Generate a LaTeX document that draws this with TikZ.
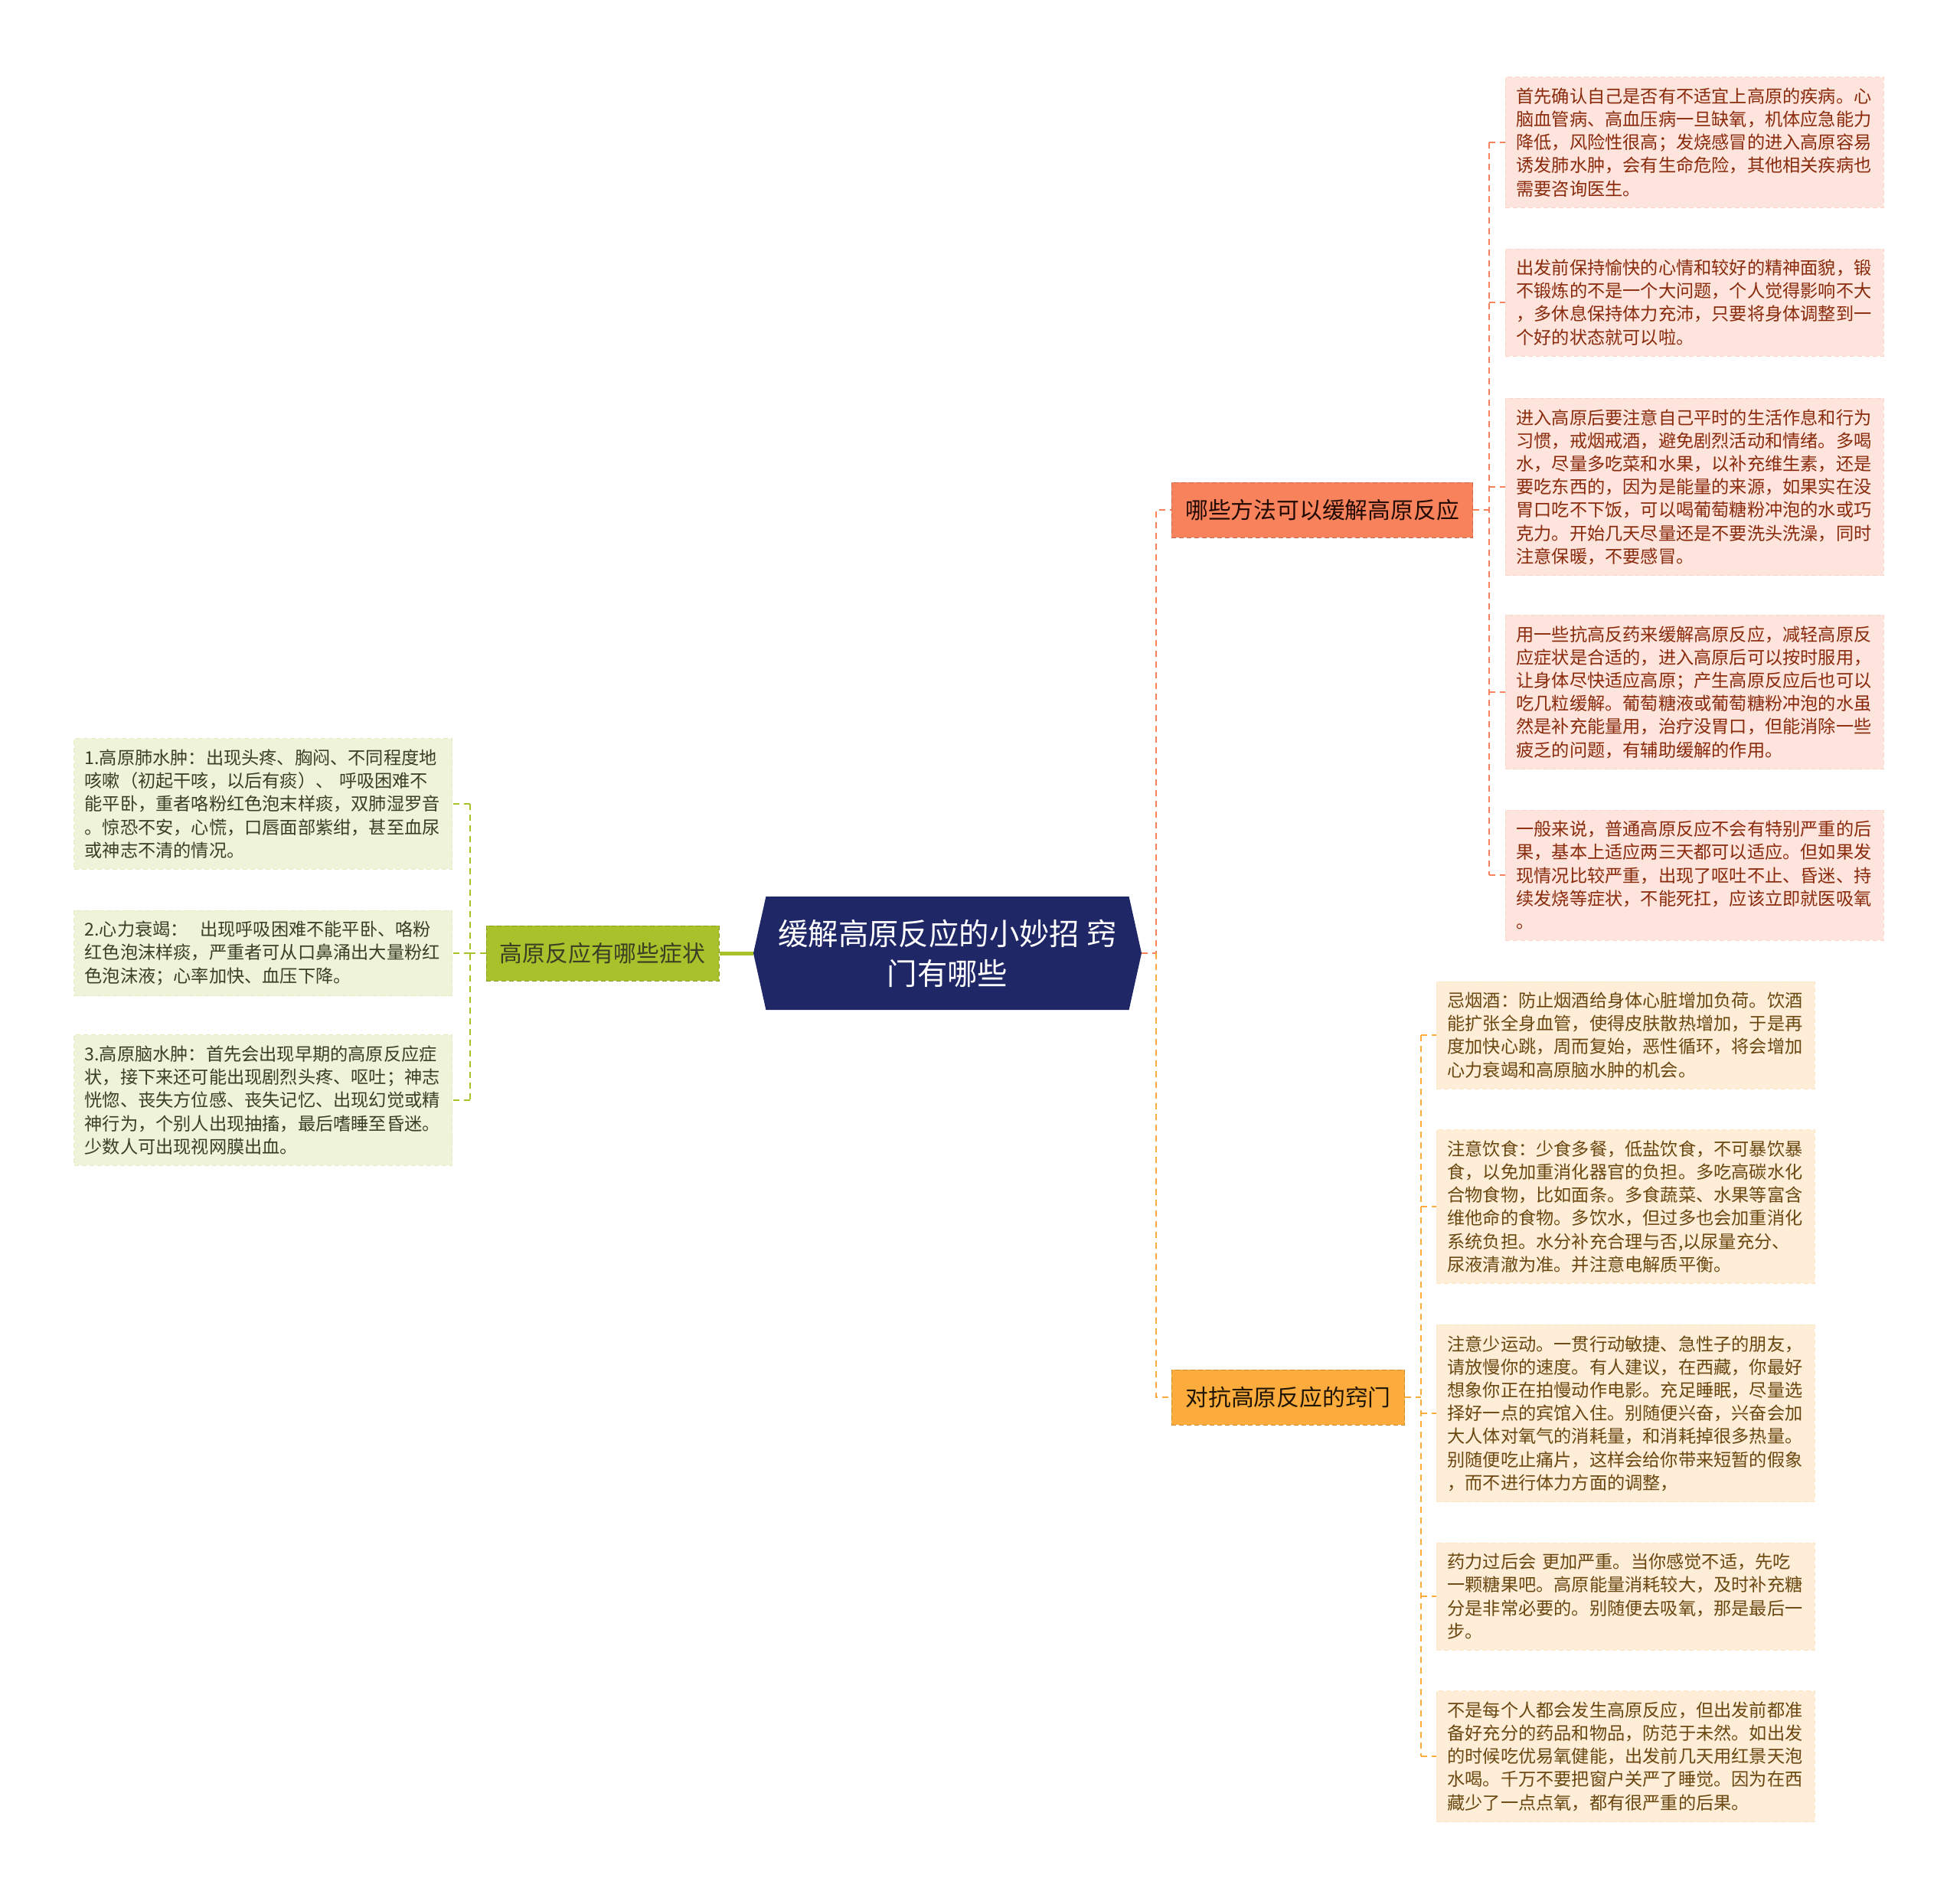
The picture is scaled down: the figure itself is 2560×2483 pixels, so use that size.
\documentclass[tikz,border=0pt]{standalone}
\usepackage{fontspec}
\setmainfont{Noto Sans CJK SC}
\usepackage{xcolor}
\usetikzlibrary{shapes.symbols}

\definecolor{rootblue}{HTML}{1F2766}
\definecolor{symgreen}{HTML}{A9C22C}
\definecolor{symleaf}{HTML}{EFF3DA}
\definecolor{symtext}{HTML}{3A3F24}
\definecolor{wayred}{HTML}{F8825B}
\definecolor{wayleaf}{HTML}{FDE4DC}
\definecolor{waytext}{HTML}{8A2A0C}
\definecolor{tipyellow}{HTML}{FBAC3C}
\definecolor{tipleaf}{HTML}{FEEED8}
\definecolor{tiptext}{HTML}{6A4710}

\begin{document}
\begin{tikzpicture}[x = 0.5pt, y = -0.5pt,
      leaf/.style = {align = left, text width = 233pt, inner xsep = 7pt, inner ysep = 7pt,
                     font = \fontsize{11.6}{15.1}\selectfont, dash pattern = on 3pt off 2pt},
      branch/.style = {minimum height = 36pt, inner xsep = 9pt, font = \fontsize{14.9}{18}\selectfont,
                       dash pattern = on 3pt off 2pt},
      link/.style = {line width = 1pt, dash pattern = on 4pt off 3pt}
      ]
    \useasboundingbox (0,0) rectangle (2560,2483);

    % root
    \node (root) [shape = signal, signal to = west and east, signal pointer angle = 155,
                  fill = rootblue, text = white, align = center, minimum width = 253.5pt,
                  minimum height = 74pt, font = \fontsize{19.7}{26}\selectfont] at (1237.5,1245)
          {缓解高原反应的小妙招 窍\\门有哪些};

    % left: symptoms
    \node (sym) [branch, fill = symgreen, draw = symgreen!80!black, text = symtext] at (787,1245) {高原反应有哪些症状};
    \node (sa) [leaf, anchor = east, fill = symleaf, draw = symleaf!85!symgreen, text = symtext] at (591,1050)
          {1.高原肺水肿：出现头疼、胸闷、不同程度地\\咳嗽（初起干咳，以后有痰）、 呼吸困难不\\能平卧，重者咯粉红色泡末样痰，双肺湿罗音\\。惊恐不安，心慌，口唇面部紫绀，甚至血尿\\或神志不清的情况。};
    \node (sb) [leaf, anchor = east, fill = symleaf, draw = symleaf!85!symgreen, text = symtext] at (591,1245)
          {2.心力衰竭：\ \ 出现呼吸困难不能平卧、咯粉\\红色泡沫样痰，严重者可从口鼻涌出大量粉红\\色泡沫液；心率加快、血压下降。};
    \node (sc) [leaf, anchor = east, fill = symleaf, draw = symleaf!85!symgreen, text = symtext] at (591,1437)
          {3.高原脑水肿：首先会出现早期的高原反应症\\状，接下来还可能出现剧烈头疼、呕吐；神志\\恍惚、丧失方位感、丧失记忆、出现幻觉或精\\神行为，个别人出现抽搐，最后嗜睡至昏迷。\\少数人可出现视网膜出血。};

    % right top: ways
    \node (way) [branch, fill = wayred, draw = wayred!80!black, text = black!75!waytext] at (1727,666) {哪些方法可以缓解高原反应};
    \node (wa) [leaf, anchor = west, fill = wayleaf, draw = wayleaf!85!wayred, text = waytext] at (1966,186)
          {首先确认自己是否有不适宜上高原的疾病。心\\脑血管病、高血压病一旦缺氧，机体应急能力\\降低，风险性很高；发烧感冒的进入高原容易\\诱发肺水肿，会有生命危险，其他相关疾病也\\需要咨询医生。};
    \node (wb) [leaf, anchor = west, fill = wayleaf, draw = wayleaf!85!wayred, text = waytext] at (1966,395)
          {出发前保持愉快的心情和较好的精神面貌，锻\\不锻炼的不是一个大问题，个人觉得影响不大\\，多休息保持体力充沛，只要将身体调整到一\\个好的状态就可以啦。};
    \node (wc) [leaf, anchor = west, fill = wayleaf, draw = wayleaf!85!wayred, text = waytext] at (1966,636)
          {进入高原后要注意自己平时的生活作息和行为\\习惯，戒烟戒酒，避免剧烈活动和情绪。多喝\\水，尽量多吃菜和水果，以补充维生素，还是\\要吃东西的，因为是能量的来源，如果实在没\\胃口吃不下饭，可以喝葡萄糖粉冲泡的水或巧\\克力。开始几天尽量还是不要洗头洗澡，同时\\注意保暖，不要感冒。};
    \node (wd) [leaf, anchor = west, fill = wayleaf, draw = wayleaf!85!wayred, text = waytext] at (1966,904)
          {用一些抗高反药来缓解高原反应，减轻高原反\\应症状是合适的，进入高原后可以按时服用，\\让身体尽快适应高原；产生高原反应后也可以\\吃几粒缓解。葡萄糖液或葡萄糖粉冲泡的水虽\\然是补充能量用，治疗没胃口，但能消除一些\\疲乏的问题，有辅助缓解的作用。};
    \node (we) [leaf, anchor = west, fill = wayleaf, draw = wayleaf!85!wayred, text = waytext] at (1966,1143)
          {一般来说，普通高原反应不会有特别严重的后\\果，基本上适应两三天都可以适应。但如果发\\现情况比较严重，出现了呕吐不止、昏迷、持\\续发烧等症状，不能死扛，应该立即就医吸氧\\。};

    % right bottom: tips
    \node (tip) [branch, fill = tipyellow, draw = tipyellow!80!black, text = black!70!tiptext] at (1682.5,1825) {对抗高原反应的窍门};
    \node (ta) [leaf, anchor = west, fill = tipleaf, draw = tipleaf!85!tipyellow, text = tiptext] at (1876,1352)
          {忌烟酒：防止烟酒给身体心脏增加负荷。饮酒\\能扩张全身血管，使得皮肤散热增加，于是再\\度加快心跳，周而复始，恶性循环，将会增加\\心力衰竭和高原脑水肿的机会。};
    \node (tb) [leaf, anchor = west, fill = tipleaf, draw = tipleaf!85!tipyellow, text = tiptext] at (1876,1576)
          {注意饮食：少食多餐，低盐饮食，不可暴饮暴\\食，以免加重消化器官的负担。多吃高碳水化\\合物食物，比如面条。多食蔬菜、水果等富含\\维他命的食物。多饮水，但过多也会加重消化\\系统负担。水分补充合理与否,以尿量充分、\\尿液清澈为准。并注意电解质平衡。};
    \node (tc) [leaf, anchor = west, fill = tipleaf, draw = tipleaf!85!tipyellow, text = tiptext] at (1876,1846)
          {注意少运动。一贯行动敏捷、急性子的朋友，\\请放慢你的速度。有人建议，在西藏，你最好\\想象你正在拍慢动作电影。充足睡眠，尽量选\\择好一点的宾馆入住。别随便兴奋，兴奋会加\\大人体对氧气的消耗量，和消耗掉很多热量。\\别随便吃止痛片，这样会给你带来短暂的假象\\，而不进行体力方面的调整，};
    \node (td) [leaf, anchor = west, fill = tipleaf, draw = tipleaf!85!tipyellow, text = tiptext] at (1876,2085)
          {药力过后会 更加严重。当你感觉不适，先吃\\一颗糖果吧。高原能量消耗较大，及时补充糖\\分是非常必要的。别随便去吸氧，那是最后一\\步。};
    \node (te) [leaf, anchor = west, fill = tipleaf, draw = tipleaf!85!tipyellow, text = tiptext] at (1876,2294)
          {不是每个人都会发生高原反应，但出发前都准\\备好充分的药品和物品，防范于未然。如出发\\的时候吃优易氧健能，出发前几天用红景天泡\\水喝。千万不要把窗户关严了睡觉。因为在西\\藏少了一点点氧，都有很严重的后果。};

    % connectors
    \coordinate (rootfork) at (1510,1245);
    \coordinate (symfork) at (614,1245);
    \coordinate (wayfork) at (1945,666);
    \coordinate (tipfork) at (1856,1825);

    \draw[symgreen, line width = 2.5pt] (root.west) -- (sym.east);
    \draw[link, wayred] (root.east) -- (rootfork) |- (way.west);
    \draw[link, tipyellow] (rootfork) |- (tip.west);

    \draw[link, symgreen] (sym.west) -- (symfork);
    \draw[link, symgreen] (symfork |- sa.east) -- (symfork |- sc.east);
    \foreach \n in {sa,sb,sc}
      \draw[link, symgreen] (symfork |- \n.east) -- (\n.east);

    \draw[link, wayred] (way.east) -- (wayfork);
    \draw[link, wayred] (wayfork |- wa.west) -- (wayfork |- we.west);
    \foreach \n in {wa,wb,wc,wd,we}
      \draw[link, wayred] (wayfork |- \n.west) -- (\n.west);

    \draw[link, tipyellow] (tip.east) -- (tipfork);
    \draw[link, tipyellow] (tipfork |- ta.west) -- (tipfork |- te.west);
    \foreach \n in {ta,tb,tc,td,te}
      \draw[link, tipyellow] (tipfork |- \n.west) -- (\n.west);
\end{tikzpicture}
\end{document}
